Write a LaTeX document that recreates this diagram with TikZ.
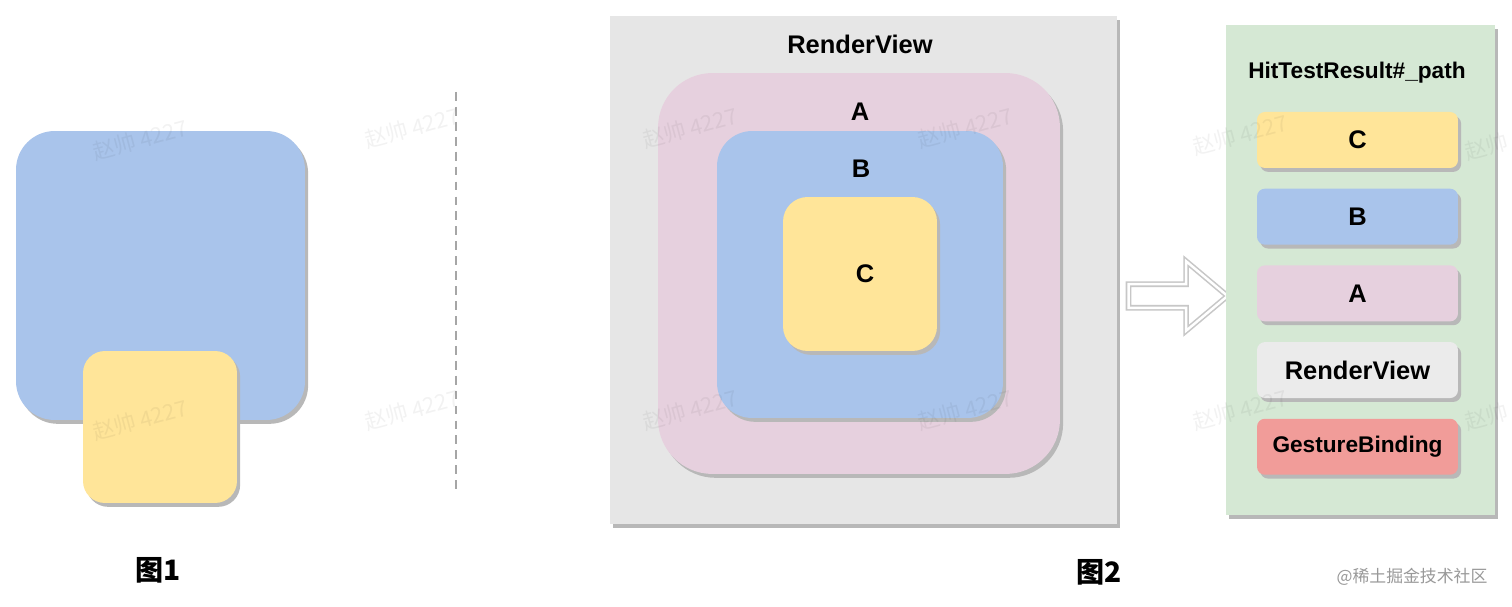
\documentclass[tikz,border=0pt]{standalone}
\usepackage{fontspec}
\setmainfont{Liberation Sans}
\newfontfamily\cjk{Noto Sans CJK SC}
\usepackage{tikz}
\usetikzlibrary{shapes.arrows, shadows, positioning}
\definecolor{rvgray}{HTML}{E6E6E6}
\definecolor{apink}{HTML}{E6D0DE}
\definecolor{bblue}{HTML}{A9C4EB}
\definecolor{cyellow}{HTML}{FFE599}
\definecolor{gred}{HTML}{F19C99}
\definecolor{pathgreen}{HTML}{D5E8D4}

\begin{document}
\begin{tikzpicture}[x=0.02cm, y=-0.02cm,
    box/.style={rectangle, inner sep=0pt, font=\bfseries\fontsize{14.5}{16}\selectfont,
      drop shadow={shadow xshift=1.8pt, shadow yshift=-2.2pt, fill=black!28, opacity=1}},
    item/.style={box, rounded corners=4.5pt, minimum width=4.02cm, minimum height=1.12cm},
    txt/.style={font=\bfseries\fontsize{14.5}{16}\selectfont, inner sep=0pt},
    caption/.style={font=\cjk\bfseries\fontsize{16}{18}\selectfont, inner sep=0pt},
    wm/.style={font=\cjk\fontsize{12.5}{14}\selectfont, text=black, opacity=0.05, rotate=15}]
    \fill[white] (0,0) rectangle (1512,607);
    \useasboundingbox (0,0) rectangle (1512,607);

    \node[box, fill=bblue, rounded corners=22pt, minimum width=5.78cm, minimum height=5.78cm] (big) at (160.5,275.5) {};
    \node[box, fill=cyellow, rounded corners=12.5pt, minimum width=3.08cm, minimum height=3.04cm] (small) at (160,427) {};
    \node[caption] (fig1) at (158,570) {图1};

    \coordinate (sept) at (456,92);
    \coordinate (sepb) at (456,495);
    \draw[black!35, line width=1.5pt, dash pattern=on 5pt off 3.5pt] (sept) -- (sepb);

    \node[box, fill=rvgray, minimum width=10.14cm, minimum height=10.16cm] (rv) at (863.5,270) {};
    \node[txt] (rvtxt) at (860,44) {RenderView};
    \node[box, fill=apink, rounded corners=31pt, minimum width=8.04cm, minimum height=8.02cm] (a) at (859,273.5) {};
    \node[txt] (atxt) at (860,112) {A};
    \node[box, fill=bblue, rounded corners=20pt, minimum width=5.72cm, minimum height=5.74cm] (b) at (860,274.5) {};
    \node[txt] (btxt) at (861,169) {B};
    \node[box, fill=cyellow, rounded corners=14pt, minimum width=3.08cm, minimum height=3.08cm] (c) at (860,274) {};
    \node[txt] (ctxt) at (865,274) {C};
    \node[caption] (fig2) at (1099,572) {图2};

    \node[single arrow, draw=black!22, line width=0.9pt, double=white, double distance=1.4pt, fill=white,
      minimum height=1.98cm, inner sep=0.22cm, single arrow head extend=0.46cm,
      single arrow tip angle=80, shape border rotate=0] (arr) at (1171,296) {};

    \node[box, fill=pathgreen, minimum width=5.38cm, minimum height=9.8cm] (hit) at (1360.5,270) {};
    \node[txt, font=\bfseries\fontsize{12.9}{14}\selectfont] (hittxt) at (1357,73) {HitTestResult\#\_path};
    \node[item, fill=cyellow] (pc) at (1357.5,140) {C};
    \node[item, fill=bblue, below=0.4cm of pc] (pb) {B};
    \node[item, fill=apink, below=0.4cm of pb] (pa) {A};
    \node[item, fill=rvgray!80, below=0.4cm of pa] (prv) {RenderView};
    \node[item, fill=gred, below=0.4cm of prv, font=\bfseries\fontsize{12.9}{14}\selectfont] (pgb) {GestureBinding};

    \foreach \x/\y [count=\i] in {140/140, 412/128, 690/128, 965/128, 1240/135, 1512/140,
      140/420, 412/410, 690/410, 965/410, 1240/410, 1512/410}
      \node[wm] (wm\i) at (\x,\y) {赵帅 4227};
    \node[font=\cjk\fontsize{9.6}{11}\selectfont, text=black!40, inner sep=0pt] (juejin) at (1412,577) {@稀土掘金技术社区};
\end{tikzpicture}
\end{document}
